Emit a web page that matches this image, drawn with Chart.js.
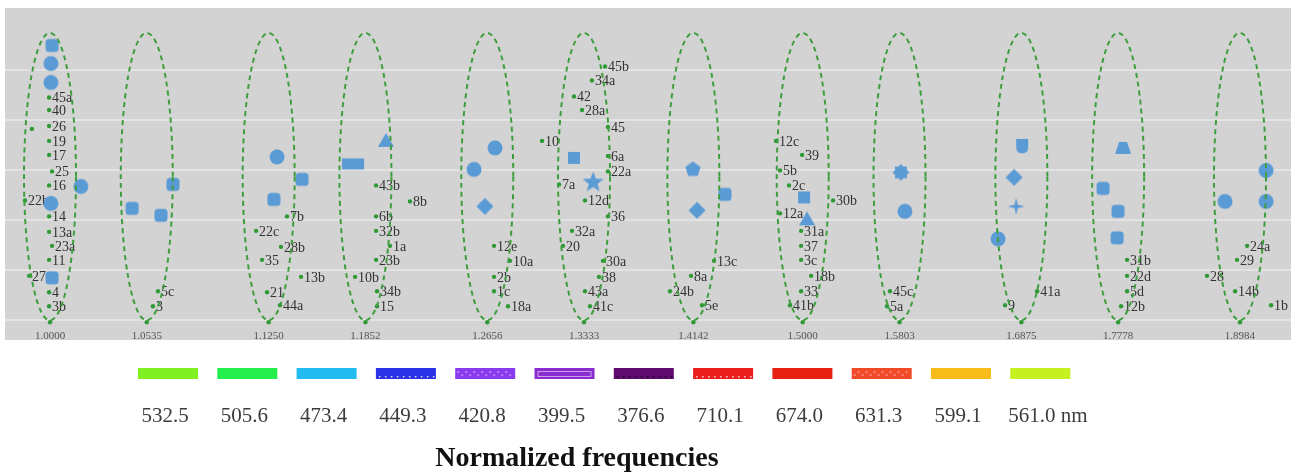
<!DOCTYPE html>
<html>
<head>
<meta charset="utf-8">
<title>Normalized frequencies</title>
<script src="https://cdn.jsdelivr.net/npm/chart.js@4.4.1/dist/chart.umd.min.js"></script>
<style>
  html, body { margin: 0; padding: 0; background: #fff; }
  canvas { display: block; }
</style>
</head>
<body>
<canvas id="chart" width="1291" height="473"></canvas>
<script>
// cluster centres (normalized frequency) and the wavelength legend
const freqs = [1.0000, 1.0535, 1.1250, 1.1852, 1.2656, 1.3333, 1.4142, 1.5000, 1.5803, 1.6875, 1.7778, 1.8984];
const wavelengths = ['532.5', '505.6', '473.4', '449.3', '420.8', '399.5', '376.6', '710.1', '674.0', '631.3', '599.1', '561.0 nm'];
const gridLevels = [0, 1, 2, 3, 4, 5];

// small green sample points with their names
const dotLabel = [
  '45a', '40', '26', '19', '17', '25', '16', '22b', '14', '13a', '23a', '11', '27', '4', '3b', '',
  '5c', '3',
  '7b', '22c', '28b', '35', '13b', '21', '44a',
  '43b', '8b', '6b', '32b', '1a', '23b', '10b', '34b', '15',
  '12e', '10a', '2b', '1c', '18a',
  '45b', '34a', '42', '28a', '45', '10', '6a', '22a', '7a', '12d', '36', '32a', '20', '30a', '38', '43a', '41c',
  '13c', '8a', '24b', '5e',
  '12c', '39', '5b', '2c', '30b', '12a', '31a', '37', '3c', '18b', '33', '41b',
  '45c', '5a',
  '41a', '9',
  '31b', '22d', '5d', '12b',
  '24a', '29', '28', '14b', '1b'
];
const dotX = [
  0.9995, 0.9995, 0.9995, 0.9995, 0.9995, 1.0011, 0.9995, 0.9866, 0.9995, 0.9995, 1.0011, 0.9995, 0.9888, 0.9995, 0.9995, 0.9903,
  1.0599, 1.0570,
  1.1362, 1.1174, 1.1325, 1.1210, 1.1448, 1.1240, 1.1319,
  1.1920, 1.2140, 1.1920, 1.1920, 1.2010, 1.1920, 1.1786, 1.1926, 1.1926,
  1.2702, 1.2812, 1.2702, 1.2702, 1.2798,
  1.3485, 1.3390, 1.3261, 1.3319, 1.3506, 1.3035, 1.3506, 1.3506, 1.3155, 1.3340, 1.3506, 1.3247, 1.3183, 1.3470, 1.3441, 1.3340, 1.3376,
  1.4300, 1.4124, 1.3965, 1.4208,
  1.4786, 1.4995, 1.4818, 1.4890, 1.5247, 1.4818, 1.4987, 1.4987, 1.4987, 1.5068, 1.4987, 1.4898,
  1.5722, 1.5697,
  1.7019, 1.6727,
  1.7864, 1.7864, 1.7864, 1.7806,
  1.9057, 1.8954, 1.8650, 1.8934, 1.9305
];
const dotY = [
  4.46, 4.21, 3.89, 3.59, 3.31, 2.98, 2.70, 2.40, 2.08, 1.77, 1.49, 1.21, 0.89, 0.56, 0.28, 3.83,
  0.58, 0.28,
  2.08, 1.79, 1.47, 1.21, 0.87, 0.56, 0.30,
  2.70, 2.38, 2.08, 1.79, 1.49, 1.21, 0.87, 0.58, 0.28,
  1.49, 1.19, 0.87, 0.58, 0.28,
  5.08, 4.80, 4.48, 4.21, 3.87, 3.59, 3.29, 2.98, 2.72, 2.40, 2.08, 1.79, 1.49, 1.19, 0.87, 0.58, 0.28,
  1.19, 0.89, 0.58, 0.30,
  3.59, 3.31, 3.00, 2.70, 2.40, 2.14, 1.79, 1.49, 1.21, 0.89, 0.58, 0.30,
  0.58, 0.28,
  0.58, 0.30,
  1.21, 0.89, 0.58, 0.28,
  1.49, 1.21, 0.89, 0.58, 0.30
];

// blue reference markers
const markerX = [
  1.0011, 1.0005, 1.0005, 1.0168, 1.0005, 1.0011,
  1.0452, 1.0616, 1.0685,
  1.1301, 1.1454, 1.1282,
  1.1773, 1.1984,
  1.2709, 1.2566, 1.2640,
  1.3261, 1.3399,
  1.4139, 1.4170, 1.4385,
  1.5011, 1.5035,
  1.5815, 1.5849,
  1.6882, 1.6809, 1.6827, 1.6664,
  1.7825, 1.7634, 1.7777, 1.7768,
  1.9253, 1.8832, 1.9253
];
const markerY = [
  5.50, 5.14, 4.76, 2.68, 2.34, 0.85,
  2.24, 2.10, 2.72,
  3.27, 2.82, 2.42,
  3.13, 3.59,
  3.45, 3.02, 2.28,
  3.25, 2.76,
  3.02, 2.20, 2.52,
  2.46, 2.02,
  2.96, 2.18,
  3.49, 2.86, 2.28, 1.63,
  3.45, 2.64, 2.18, 1.65,
  3.00, 2.38, 2.38
];
const markerShape = [
  'roundSquare', 'circle', 'circle', 'circle', 'circle', 'roundSquare',
  'roundSquare', 'roundSquare', 'roundSquare',
  'circle', 'roundSquare', 'roundSquare',
  'wideRect', 'triangle',
  'circle', 'circle', 'diamond',
  'square', 'star5',
  'pentagon', 'diamond', 'roundSquare',
  'square', 'triangle',
  'gear', 'circle',
  'shield', 'diamond', 'star4', 'circle',
  'trapezoid', 'roundSquare', 'roundSquare', 'roundSquare',
  'circle', 'circle', 'circle'
];

// styles
const BLUE = '#5b9bd5';
const GREEN = '#2f9a35';
const ELLIPSE_TOP = 5.75;
const ELLIPSE_BOTTOM = 0;
const ELLIPSE_HALF_WIDTH = 26;
const BASE_LEVEL = -0.04;
const legendColors = ['#7ff021', '#22ee4c', '#22bbf0', '#2b32e6', '#8a3bee', '#8a2bd0', '#5e0b6e',
                      '#ee1d1d', '#e8200f', '#f04a28', '#f8bc1a', '#c6f01f'];
const legendPattern = ['', '', '', 'dots', 'grid', 'inner', 'darkdots', 'dots', '', 'grid', '', ''];

function polygon(g, cx, cy, n, rOut, rIn, rot) {
  const steps = rIn ? n * 2 : n;
  for (let i = 0; i < steps; i++) {
    const r = rIn && i % 2 ? rIn : rOut;
    const a = rot + i * Math.PI * 2 / steps;
    const px = cx + r * Math.cos(a), py = cy + r * Math.sin(a);
    if (i === 0) g.moveTo(px, py); else g.lineTo(px, py);
  }
  g.closePath();
}

function makeMarker(kind) {
  const c = document.createElement('canvas');
  const size = kind === 'star5' ? 24 : kind === 'wideRect' ? 24 : 18;
  c.width = size; c.height = size;
  const g = c.getContext('2d');
  const m = size / 2;
  const up = -Math.PI / 2;
  g.fillStyle = BLUE;
  g.beginPath();
  switch (kind) {
    case 'circle': g.arc(m, m, 7.5, 0, Math.PI * 2); break;
    case 'square': g.rect(m - 6, m - 6, 12, 12); break;
    case 'roundSquare': g.roundRect(m - 6.5, m - 6.5, 13, 13, 3.5); break;
    case 'wideRect': g.rect(m - 11, m - 5.5, 22, 11); break;
    case 'triangle': g.moveTo(m, m - 8); g.lineTo(m + 8, m + 6); g.lineTo(m - 8, m + 6); g.closePath(); break;
    case 'diamond': polygon(g, m, m, 4, 8.5, 0, up); break;
    case 'pentagon': polygon(g, m, m, 5, 8, 0, up); break;
    case 'star5': polygon(g, m, m, 5, 11, 4.6, up); break;
    case 'star4': polygon(g, m, m, 4, 8.5, 2.3, up); break;
    case 'gear': polygon(g, m, m, 8, 8.5, 6.3, up); break;
    case 'shield':
      g.moveTo(m - 6, m - 7); g.lineTo(m + 6, m - 7); g.lineTo(m + 6, m + 1);
      g.quadraticCurveTo(m + 6, m + 7.5, m, m + 7.5);
      g.quadraticCurveTo(m - 6, m + 7.5, m - 6, m + 1);
      g.closePath(); break;
    case 'trapezoid': g.moveTo(m - 4, m - 6); g.lineTo(m + 4, m - 6); g.lineTo(m + 8, m + 6); g.lineTo(m - 8, m + 6); g.closePath(); break;
  }
  g.fill();
  return c;
}

const backdrop = {
  id: 'backdrop',
  beforeDraw(chart) {
    const { ctx, chartArea, scales } = chart;
    ctx.save();
    ctx.fillStyle = '#d3d3d3';
    // grey panel runs just past the frequency labels
    ctx.fillRect(chartArea.left, chartArea.top, chart.width - chartArea.left, scales.x.bottom - 6 - chartArea.top);
    ctx.restore();
  }
};

const dotNames = {
  id: 'dotNames',
  afterDatasetDraw(chart, args) {
    if (args.index !== 1) return;
    const ctx = chart.ctx;
    ctx.save();
    ctx.font = '14px "Liberation Serif"';
    ctx.fillStyle = '#333';
    ctx.textBaseline = 'middle';
    ctx.textAlign = 'left';
    args.meta.data.forEach((pt, i) => {
      if (dotLabel[i]) ctx.fillText(dotLabel[i], pt.x + 3, pt.y + 1);
    });
    ctx.restore();
  }
};

const ellipses = {
  id: 'ellipses',
  afterDatasetsDraw(chart) {
    const { ctx, scales: { x, y } } = chart;
    const top = y.getPixelForValue(ELLIPSE_TOP);
    const bot = y.getPixelForValue(ELLIPSE_BOTTOM);
    ctx.save();
    ctx.strokeStyle = '#3e9e3e';
    ctx.lineWidth = 2;
    ctx.setLineDash([5, 4]);
    freqs.forEach(f => {
      ctx.beginPath();
      ctx.ellipse(x.getPixelForValue(f), (top + bot) / 2, ELLIPSE_HALF_WIDTH, (bot - top) / 2, 0, 0, Math.PI * 2);
      ctx.stroke();
    });
    ctx.restore();
  }
};

const wavelengthKey = {
  id: 'wavelengthKey',
  afterDraw(chart) {
    const ctx = chart.ctx;
    const first = 168, step = 79.3, w = 60, h = 11, barTop = 368, textY = 416;
    ctx.save();
    wavelengths.forEach((wl, i) => {
      const cx = first + i * step;
      const x0 = cx - w / 2;
      ctx.fillStyle = legendColors[i];
      ctx.fillRect(x0, barTop, w, h);
      const p = legendPattern[i];
      if (p === 'dots' || p === 'darkdots') {
        ctx.fillStyle = p === 'dots' ? 'rgba(255,255,255,0.8)' : 'rgba(0,0,0,0.7)';
        for (let k = x0 + 3; k < x0 + w - 2; k += 6) ctx.fillRect(k, barTop + h - 3, 1.5, 1.5);
      } else if (p === 'grid') {
        ctx.fillStyle = 'rgba(255,255,255,0.35)';
        for (let k = x0 + 2; k < x0 + w - 2; k += 4) ctx.fillRect(k, barTop + 3 + (k % 8 < 4 ? 0 : 3), 2, 2);
      } else if (p === 'inner') {
        ctx.strokeStyle = 'rgba(255,255,255,0.55)';
        ctx.lineWidth = 1;
        ctx.strokeRect(x0 + 3.5, barTop + 3.5, w - 7, h - 6);
      }
      ctx.fillStyle = '#3c3c3c';
      ctx.font = '21px "Liberation Serif"';
      ctx.textBaseline = 'middle';
      ctx.textAlign = i === wavelengths.length - 1 ? 'left' : 'center';
      ctx.fillText(wl, i === wavelengths.length - 1 ? cx - 32 : cx - 3, textY);
    });
    ctx.fillStyle = '#111';
    ctx.font = 'bold 28px "Liberation Serif"';
    ctx.textAlign = 'center';
    ctx.textBaseline = 'middle';
    ctx.fillText('Normalized frequencies', 577, 459);
    ctx.restore();
  }
};

new Chart(document.getElementById('chart'), {
  type: 'scatter',
  data: {
    datasets: [
      {
        label: 'reference',
        data: markerX.map((x, i) => ({ x, y: markerY[i] })),
        pointStyle: markerShape.map(makeMarker),
        pointRadius: 7,
        backgroundColor: BLUE,
        borderWidth: 0
      },
      {
        label: 'samples',
        data: dotX.map((x, i) => ({ x, y: dotY[i] })),
        pointRadius: 2.2,
        backgroundColor: GREEN,
        borderWidth: 0
      },
      {
        label: 'base',
        data: freqs.map(f => ({ x: f, y: BASE_LEVEL })),
        pointRadius: 2.2,
        backgroundColor: GREEN,
        borderWidth: 0
      }
    ]
  },
  options: {
    responsive: false,
    animation: false,
    layout: { autoPadding: false, padding: { left: 5, top: 8, right: 0, bottom: 127 } },
    plugins: { legend: { display: false }, tooltip: { enabled: false } },
    scales: {
      x: {
        type: 'logarithmic',
        min: 0.97605,
        max: 1.9513,
        bounds: 'data',
        grid: { display: false, drawTicks: false },
        border: { display: false },
        afterBuildTicks: s => { s.ticks = freqs.map(v => ({ value: v })); },
        ticks: {
          autoSkip: false,
          maxRotation: 0,
          padding: 3,
          color: '#555',
          font: { family: 'Liberation Serif', size: 11 },
          callback: v => Number(v).toFixed(4)
        }
      },
      y: {
        min: -0.13,
        max: 6.25,
        afterBuildTicks: s => { s.ticks = gridLevels.map(v => ({ value: v })); },
        ticks: { display: false },
        grid: { color: '#e2e2e2', lineWidth: 2, drawTicks: false },
        border: { display: false }
      }
    }
  },
  plugins: [backdrop, dotNames, ellipses, wavelengthKey]
});
</script>
</body>
</html>
